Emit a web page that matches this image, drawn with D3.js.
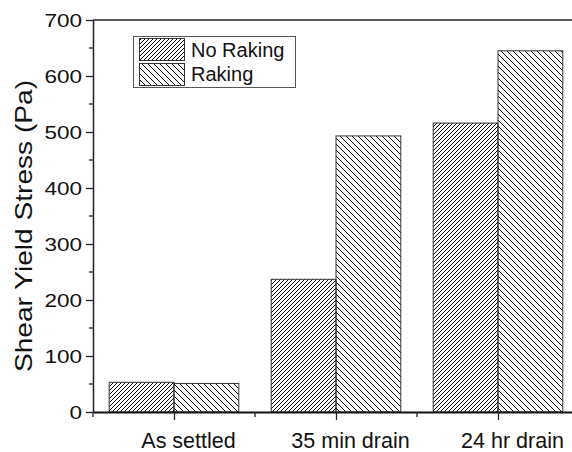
<!DOCTYPE html>
<html>
<head>
<meta charset="utf-8">
<script src="https://cdn.jsdelivr.net/npm/d3@7/dist/d3.min.js"></script>
<style>
  html, body { margin: 0; padding: 0; background: #fff; }
  svg { display: block; font-family: "Liberation Sans", Arial, sans-serif; }
</style>
</head>
<body>
<svg id="chart" width="572" height="452"></svg>
<script>
// Shear yield stress per condition, with and without raking
const categories = ["As settled", "35 min drain", "24 hr drain"];
const noRaking = [53, 237, 516];
const raking = [51, 493, 645];
const seriesNames = ["No Raking", "Raking"];
const yTicks = [0, 100, 200, 300, 400, 500, 600, 700];

const svg = d3.select("#chart");
const plotLeft = 93, plotTop = 20, plotBottom = 412, plotRight = 579;

const x = d3.scaleLinear().domain([0.5, 3.5]).range([plotLeft, plotRight]);
const y = d3.scaleLinear().domain([0, 700]).range([plotBottom, plotTop]);
const barW = 0.4;

// hatch fills
const defs = svg.append("defs");
defs.append("pattern")
  .attr("id", "hatchFwd").attr("patternUnits", "userSpaceOnUse")
  .attr("width", 4).attr("height", 4)
  .append("path")
  .attr("d", "M-1,1 l2,-2 M0,4 l4,-4 M3,5 l2,-2")
  .attr("stroke", "#000").attr("stroke-width", 1);
defs.append("pattern")
  .attr("id", "hatchBack").attr("patternUnits", "userSpaceOnUse")
  .attr("width", 6).attr("height", 6)
  .append("path")
  .attr("d", "M0,0 l6,6 M-1,5 l2,2 M5,-1 l2,2")
  .attr("stroke", "#000").attr("stroke-width", 1);
const fills = ["url(#hatchFwd)", "url(#hatchBack)"];

// bars
const series = [noRaking, raking];
series.forEach((vals, s) => {
  svg.append("g").selectAll("rect")
    .data(vals)
    .join("rect")
    .attr("x", (d, i) => x(i + 1 - barW + s * barW))
    .attr("width", (d, i) => x(i + 1 + s * barW) - x(i + 1 - barW + s * barW))
    .attr("y", d => y(d))
    .attr("height", d => y(0) - y(d))
    .attr("fill", fills[s])
    .attr("stroke", "#333")
    .attr("stroke-width", 1);
});

// top frame line
svg.append("line")
  .attr("x1", plotLeft).attr("x2", plotRight)
  .attr("y1", plotTop).attr("y2", plotTop)
  .attr("stroke", "#222").attr("stroke-width", 1.5);

// y axis
const yAxis = svg.append("g")
  .attr("transform", `translate(${plotLeft},0)`)
  .call(d3.axisLeft(y).tickValues(yTicks).tickSize(7).tickSizeOuter(0).tickPadding(0));
yAxis.select(".domain").attr("stroke", "#222").attr("stroke-width", 1.5);
yAxis.selectAll(".tick line").attr("stroke", "#222").attr("stroke-width", 1.3);
yAxis.selectAll(".tick text")
  .attr("x", null).attr("dy", "0.36em")
  .attr("transform", "translate(-11,0) scale(1.25,1)")
  .attr("font-size", 18)
  .attr("fill", "#111");
// minor y ticks
svg.append("g").selectAll("line")
  .data(d3.range(50, 700, 100))
  .join("line")
  .attr("x1", plotLeft - 4).attr("x2", plotLeft)
  .attr("y1", d => y(d)).attr("y2", d => y(d))
  .attr("stroke", "#222").attr("stroke-width", 1.3);

// x axis
const xAxis = svg.append("g")
  .attr("transform", `translate(0,${plotBottom})`)
  .call(d3.axisBottom(x).tickValues([1, 2, 3]).tickFormat((d) => categories[d - 1])
    .tickSize(8).tickSizeOuter(0).tickPadding(0));
xAxis.select(".domain").attr("stroke", "#111").attr("stroke-width", 2);
xAxis.selectAll(".tick line").attr("stroke", "#222").attr("stroke-width", 1.3);
xAxis.selectAll(".tick text")
  .attr("y", 36).attr("dy", 0).attr("dx", 14)
  .attr("font-size", 21.5)
  .attr("fill", "#111");
// minor x ticks
svg.append("g").selectAll("line")
  .data([0.5, 1.5, 2.5])
  .join("line")
  .attr("x1", d => x(d)).attr("x2", d => x(d))
  .attr("y1", plotBottom).attr("y2", plotBottom + 5)
  .attr("stroke", "#222").attr("stroke-width", 1.3);

// y axis title
svg.append("text")
  .attr("transform", "translate(32,226) rotate(-90)")
  .attr("text-anchor", "middle")
  .attr("font-size", 24)
  .attr("textLength", 292)
  .attr("lengthAdjust", "spacingAndGlyphs")
  .attr("fill", "#111")
  .text("Shear Yield Stress (Pa)");

// legend
const lg = svg.append("g");
lg.append("rect")
  .attr("x", 133.5).attr("y", 36.5).attr("width", 162).attr("height", 51)
  .attr("fill", "#fff").attr("stroke", "#555").attr("stroke-width", 1);
seriesNames.forEach((name, i) => {
  lg.append("rect")
    .attr("x", 139.5).attr("y", 38.5 + i * 25).attr("width", 45).attr("height", 22)
    .attr("fill", fills[i]).attr("stroke", "#333").attr("stroke-width", 1);
  lg.append("text")
    .attr("x", 191).attr("y", 57 + i * 23.5)
    .attr("font-size", 20)
    .attr("fill", "#111")
    .text(name);
});
</script>
</body>
</html>
